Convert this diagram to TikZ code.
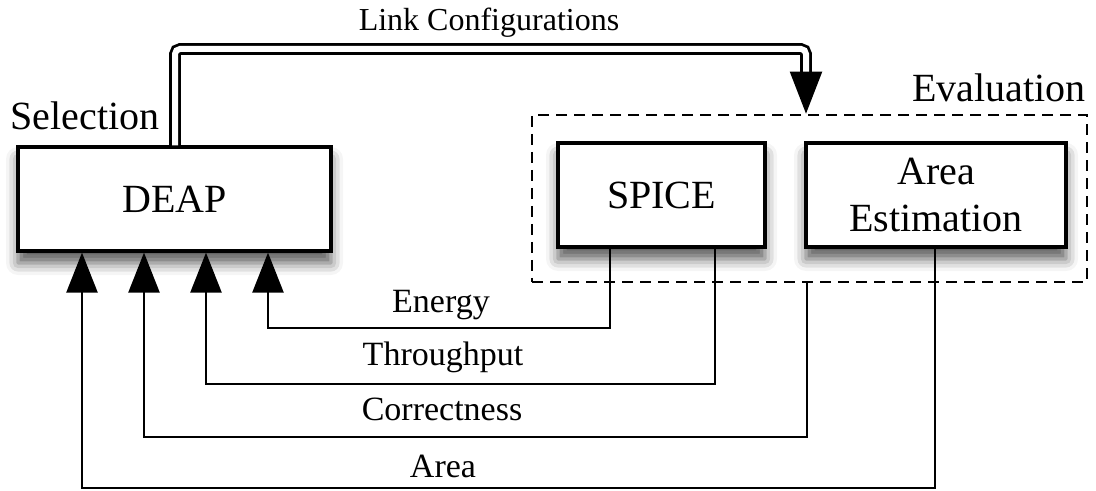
\documentclass[tikz,border=0pt]{standalone}
\usepackage{fontspec}
\setmainfont{Liberation Serif}
\usetikzlibrary{arrows.meta,shadows.blur}
\begin{document}
\begin{tikzpicture}[x=0.5pt,y=-0.5pt,
  box/.style={draw=black, line width=1.6pt, fill=white, inner sep=0pt, align=center,
    font=\fontsize{20}{23.5}\selectfont,
    blur shadow={shadow xshift=0pt, shadow yshift=-6pt, shadow blur radius=6pt, shadow opacity=65}},
  group/.style={draw=black, line width=1.3pt, dash pattern=on 5.5pt off 3.5pt, inner sep=0pt},
  title/.style={font=\fontsize{20}{24}\selectfont, inner sep=0pt, anchor=base},
  lbl/.style={font=\fontsize{17}{20}\selectfont, inner sep=0pt, anchor=base},
  fb/.style={draw=black, line width=1.2pt, -{Triangle[length=20pt,width=15.5pt]}},
  dbl/.style={draw=black, line width=1.4pt, double=white, double distance=3pt, rounded corners=2.5pt},
  % white shaft hidden inside the double line, black head at the end
  tipline/.style={draw=white, line width=1pt, -{Triangle[length=21pt,width=16pt,color=black]}}]

\useasboundingbox (0,0) rectangle (1096,491);

% evaluation group (dashed frame)
\node[group, minimum width=277.5pt, minimum height=83.5pt] (eval) at (809.5,198.5) {};

% blocks
\node[box, minimum width=156.5pt, minimum height=52pt] (deap) at (174.5,199) {DEAP};
\node[box, minimum width=103.5pt, minimum height=52pt] (spice) at (661.5,195) {SPICE};
\node[box, minimum width=130pt, minimum height=52pt] (area) at (936,195) {Area\\Estimation};

% group titles
\node[title] (sel) at (85,130) {Selection};
\node[title] (evl) at (999,102) {Evaluation};

% link configurations: double line into the evaluation group
\coordinate (lkA) at (175,49);
\coordinate (lkB) at (806,49);
\coordinate (lkC) at (806,78);
\coordinate (lkD) at (806,60);
\draw[dbl] (deap.north -| lkA) -- (lkA) -- (lkB) -- (lkC);
\draw[tipline] (lkD) -- (eval.north -| lkD);
\node[lbl, font=\fontsize{16}{19}\selectfont] (lc) at (489,31) {Link Configurations};

% feedback paths into DEAP
\coordinate (eR) at (610,328); \coordinate (eL) at (268,328);
\coordinate (tR) at (715,384); \coordinate (tL) at (206,384);
\coordinate (cR) at (807,437); \coordinate (cL) at (144,437);
\coordinate (aR) at (935,488); \coordinate (aL) at (82,488);

\draw[fb] (spice.south -| eR) -- (eR) -- (eL) -- (deap.south -| eL);
\draw[fb] (spice.south -| tR) -- (tR) -- (tL) -- (deap.south -| tL);
\draw[fb] (eval.south -| cR) -- (cR) -- (cL) -- (deap.south -| cL);
\draw[fb] (area.south -| aR) -- (aR) -- (aL) -- (deap.south -| aL);

\node[lbl] (len) at (441,313) {Energy};
\node[lbl] (lth) at (443,365) {Throughput};
\node[lbl] (lco) at (442,420) {Correctness};
\node[lbl] (lar) at (443,477) {Area};
\end{tikzpicture}
\end{document}
